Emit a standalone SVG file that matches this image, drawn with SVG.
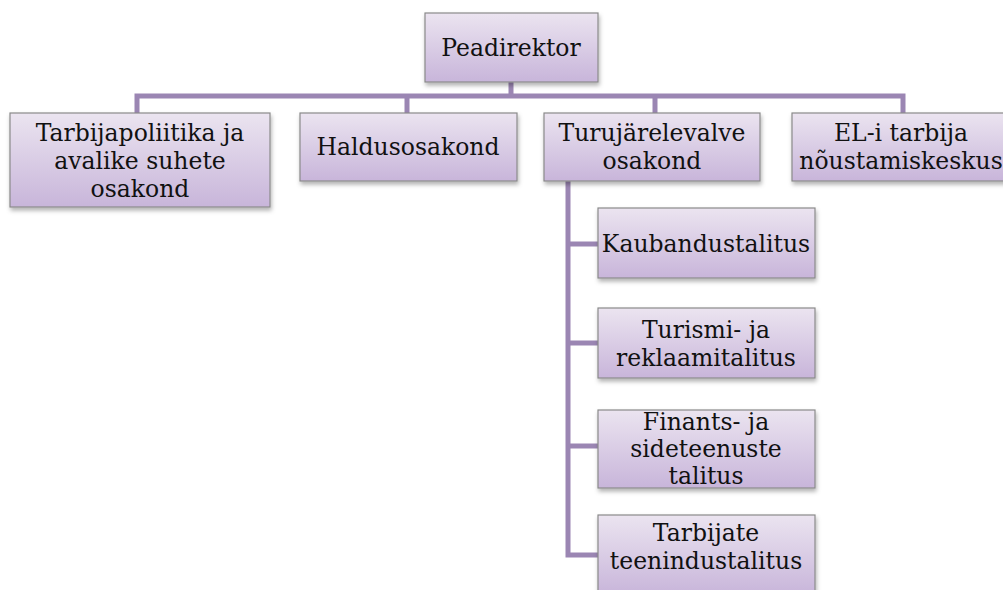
<svg xmlns="http://www.w3.org/2000/svg" width="1003" height="590" viewBox="0 0 1003 590">
<defs>
<linearGradient id="g" x1="0" y1="0" x2="0" y2="1">
<stop offset="0" stop-color="#ebe4f0"/>
<stop offset="1" stop-color="#c8b5da"/>
</linearGradient>
<filter id="sh" x="-10%" y="-10%" width="130%" height="140%">
<feDropShadow dx="1" dy="3" stdDeviation="2" flood-color="#000" flood-opacity="0.3"/>
</filter>
</defs>
<style>
.box{fill:url(#g);stroke:#8a8a8a;stroke-width:1.2;filter:url(#sh)}
.t{font-family:"DejaVu Serif","Liberation Serif",serif;font-size:23.5px;fill:#111;text-anchor:middle}
.c{fill:none;stroke:#9b86b3;stroke-width:5}
</style>
<rect width="1003" height="590" fill="#fff"/>
<g id="connectors">
<path class="c" d="M511 82V96M137 113V96H903V113M407 96V113M655 96V113"/>
<path class="c" d="M568 181V555H598M568 244H598M568 343H598M568 446H598"/>
</g>
<g id="peadirektor">
<rect class="box" x="425" y="13" width="173" height="69"/>
<text class="t" x="511" y="56">Peadirektor</text>
</g>
<g id="tarbijapoliitika">
<rect class="box" x="10" y="113" width="260" height="94"/>
<text class="t" x="140" y="141">Tarbijapoliitika ja</text>
<text class="t" x="140" y="169">avalike suhete</text>
<text class="t" x="140" y="197">osakond</text>
</g>
<g id="haldusosakond">
<rect class="box" x="300" y="113" width="217" height="68"/>
<text class="t" x="408" y="155">Haldusosakond</text>
</g>
<g id="turujarelevalve">
<rect class="box" x="544" y="113" width="216" height="68"/>
<text class="t" x="652" y="141">Turujärelevalve</text>
<text class="t" x="652" y="169">osakond</text>
</g>
<g id="eli">
<rect class="box" x="792" y="113" width="218" height="68"/>
<text class="t" x="901" y="141">EL-i tarbija</text>
<text class="t" x="901" y="169">nõustamiskeskus</text>
</g>
<g id="kaubandustalitus">
<rect class="box" x="598" y="208" width="217" height="70"/>
<text class="t" x="706" y="252">Kaubandustalitus</text>
</g>
<g id="turismi">
<rect class="box" x="598" y="308" width="217" height="70"/>
<text class="t" x="706" y="338">Turismi- ja</text>
<text class="t" x="706" y="366">reklaamitalitus</text>
</g>
<g id="finants">
<rect class="box" x="598" y="410" width="217" height="78"/>
<text class="t" x="706" y="430">Finants- ja</text>
<text class="t" x="706" y="457">sideteenuste</text>
<text class="t" x="706" y="484">talitus</text>
</g>
<g id="tarbijate">
<rect class="box" x="598" y="515" width="217" height="80"/>
<text class="t" x="706" y="541">Tarbijate</text>
<text class="t" x="706" y="569">teenindustalitus</text>
</g>
</svg>
